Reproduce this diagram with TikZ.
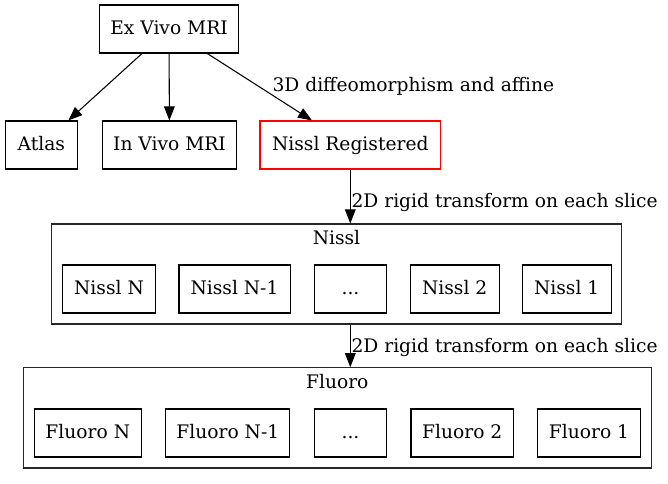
\documentclass[tikz,border=0pt]{standalone}
\usepackage{fontspec}
\setmainfont{DejaVu Serif}
\usetikzlibrary{arrows.meta}
\begin{document}
\begin{tikzpicture}[x=0.75pt,y=-0.75pt,
  font=\fontsize{14}{17}\selectfont,
  txt/.style={text height=11pt,text depth=3pt},
  box/.style={txt,draw=black,line width=0.8pt,rectangle,inner sep=0pt,minimum height=36pt},
  redbox/.style={box,draw=red},
  cluster/.style={draw=black!85,line width=0.8pt,rectangle,inner sep=0pt,minimum height=75pt},
  title/.style={txt,inner sep=0pt},
  elabel/.style={txt,inner sep=0pt,anchor=west},
  arr/.style={draw=black,line width=0.8pt,-{Triangle[length=10.5pt,width=8pt]}}]
\path[use as bounding box] (0,0) rectangle (668,484);
% clusters
\node[cluster,minimum width=427.2pt] (nissl) at (336.5,274) {};
\node[title] (nissltitle) at (336.5,239) {Nissl};
\node[cluster,minimum width=471pt,minimum height=75.2pt] (fluoro) at (337.3,417.9) {};
\node[title] (fluorotitle) at (337.3,382.7) {Fluoro};
% top nodes
\node[box,minimum width=104.8pt] (ex) at (169,29) {Ex Vivo MRI};
\node[box,minimum width=54.4pt] (atlas) at (41.3,145) {Atlas};
\node[box,minimum width=100.8pt] (invivo) at (169.5,145) {In Vivo MRI};
\node[redbox,minimum width=135.5pt] (nreg) at (350.3,145) {Nissl Registered};
% nissl slices
\node[box,minimum width=69.5pt] (nN) at (109,289) {Nissl N};
\node[box,minimum width=83.3pt] (nN1) at (234.5,289) {Nissl N-1};
\node[box,minimum width=54.3pt] (ndots) at (350.5,289) {...};
\node[box,minimum width=66.5pt] (n2) at (454.7,289) {Nissl 2};
\node[box,minimum width=66.5pt] (n1) at (566.7,289) {Nissl 1};
% fluoro slices
\node[box,minimum width=80.3pt] (fN) at (87.8,433) {Fluoro N};
\node[box,minimum width=93.2pt] (fN1) at (227.8,433) {Fluoro N-1};
\node[box,minimum width=54.3pt] (fdots) at (350.5,433) {...};
\node[box,minimum width=77pt] (f2) at (462.3,433) {Fluoro 2};
\node[box,minimum width=77.5pt] (f1) at (589,433) {Fluoro 1};
% edges
\draw[arr] (ex) -- (atlas);
\draw[arr] (ex) -- (invivo);
\draw[arr] (ex) -- (nreg);
\node[elabel] (l1) at (272.3,86) {3D diffeomorphism and affine};
\draw[arr] (nreg.south) -- (nreg.south |- nissl.north);
\node[elabel] (l2) at (351.3,202) {2D rigid transform on each slice};
\draw[arr] (nreg.south |- nissl.south) -- (nreg.south |- fluoro.north);
\node[elabel] (l3) at (351.3,346.7) {2D rigid transform on each slice};
\end{tikzpicture}
\end{document}
